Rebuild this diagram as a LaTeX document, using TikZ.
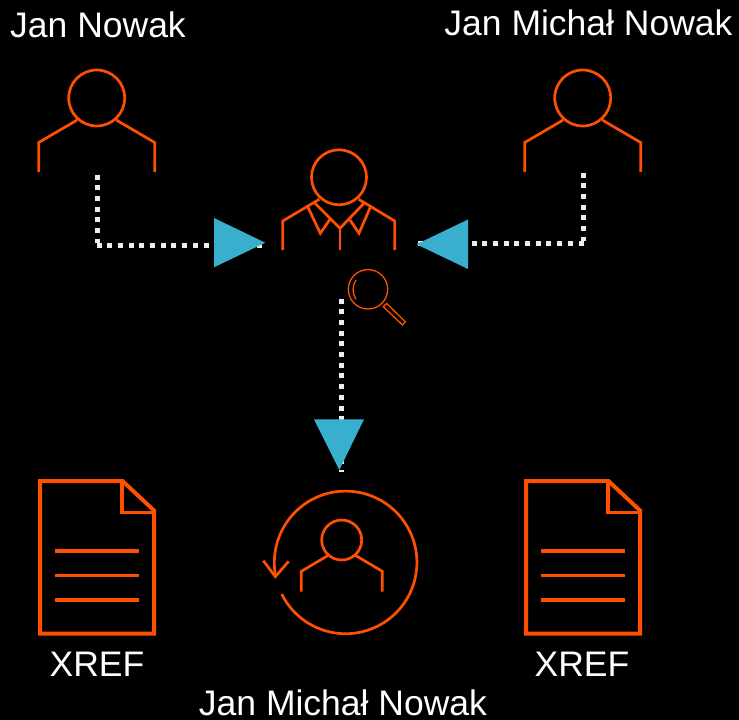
\documentclass[tikz,border=0pt]{standalone}
\usepackage{fontspec}
\setmainfont{Liberation Sans}
\definecolor{fire}{HTML}{FF5000}
\definecolor{teal}{HTML}{37AFCD}
\definecolor{dotc}{HTML}{EEEEEE}
\tikzset{
  lab/.style={text=white,inner sep=0pt,font=\fontsize{35.5}{40}\selectfont,anchor=base},
  ln/.style={draw=fire,line width=2.7pt,line cap=butt,line join=miter},
  thin ln/.style={draw=fire,line width=1.3pt},
  docln/.style={draw=fire,line width=4pt,line join=miter},
  rowln/.style={draw=fire,line width=3.6pt},
  dots/.style={draw=dotc,line width=5pt,dash pattern=on 5pt off 5.67pt},
  tip/.style={fill=teal,draw=none},
  pics/person/.style={code={
    \path[ln] (0,0) circle (28);
    \path[ln] (-19.5,22) -- (-58,44.5) -- (-58,74);
    \path[ln] (19.5,22) -- (58,44.5) -- (58,74);
  }},
  pics/docu/.style={code={
    \path[docln] (0,0) -- (82.5,0) -- (114,29.5) -- (114,152.5) -- (0,152.5) -- cycle;
    \path[docln,line width=3.6pt] (82,0) -- (82,31.5) -- (114,31.5);
    \path[rowln] (14.7,69.7) -- (99.3,69.7);
    \path[rowln] (14.7,94.3) -- (99.3,94.3);
    \path[rowln] (14.7,119) -- (99.3,119);
  }}
}
\begin{document}
\begin{tikzpicture}[x=1pt,y=-1pt]
\path[fill=black,use as bounding box] (0,0) rectangle (739,720);
% people
\pic at (96.7,98) {person};
\pic at (582.7,98) {person};
% centre person
\path[ln] (339,177.3) circle (27.5);
\path[ln] (319.3,199.3) -- (282.7,221) -- (282.7,250);
\path[ln] (358.7,199.3) -- (394.7,221) -- (394.7,250);
\path[ln] (315,203.3) -- (340,228.3) -- (364,203.3);
\path[ln] (340,228.3) -- (340,250);
\path[ln] (307.7,206.7) -- (320.3,233.3) -- (330,219.3);
\path[ln] (371,205.7) -- (359,233.3) -- (350,220);
% magnifier
\path[thin ln] (368,289.3) circle (19.7);
\path[thin ln] (356,280) .. controls (352,286) and (352,293) .. (356,299.3);
\path[thin ln] (383.3,306.7) -- (386.7,303.5) -- (405.3,321.7) -- (402.5,325) -- cycle;
% connector ends
\coordinate (leftstart) at (97,174.8);
\coordinate (leftelbow) at (97,243);
\coordinate (leftturn) at (96.8,245.3);
\coordinate (leftend) at (262,245.3);
\coordinate (rightstart) at (583,172.8);
\coordinate (rightelbow) at (583,241);
\coordinate (rightturn) at (583.5,243.3);
\coordinate (rightend) at (418,243.3);
\coordinate (downstart) at (341,298.8);
\coordinate (downend) at (341,472);
\path[dots] (leftstart) -- (leftelbow);
\path[dots] (leftturn) -- (leftend);
\path[dots] (rightstart) -- (rightelbow);
\path[dots] (rightturn) -- (rightend);
\path[dots] (downstart) -- (downend);
\path[tip] (214,218) -- (214,267.3) -- (265.3,242.7) -- cycle;
\path[tip] (468,219.5) -- (468,269) -- (416.5,244.3) -- cycle;
\path[tip] (314,419.3) -- (364,419.3) -- (339.3,470) -- cycle;
% refresh person
\path[ln] (281.7,594) arc[start angle=153.7,end angle=-191.6,radius=71.3];
\path[ln] (263.3,560.7) -- (275.3,576.7) -- (288.7,561.3);
\path[ln] (341.7,540) circle (20);
\path[ln] (328.3,555.3) -- (301.3,571.3) -- (301.3,591.7);
\path[ln] (355.3,555.3) -- (382.3,571.3) -- (382.3,591.7);
% documents
\pic at (40,481) {docu};
\pic at (526,481) {docu};
% labels
\node[lab,anchor=base west] (n1) at (10,37) {Jan Nowak};
\node[lab,anchor=base] (n2) at (588.5,35.5) {Jan Michał Nowak};
\node[lab] (x1) at (97,676.5) {XREF};
\node[lab] (x2) at (582,676.5) {XREF};
\node[lab] (n3) at (343,715.5) {Jan Michał Nowak};
\end{tikzpicture}
\end{document}
